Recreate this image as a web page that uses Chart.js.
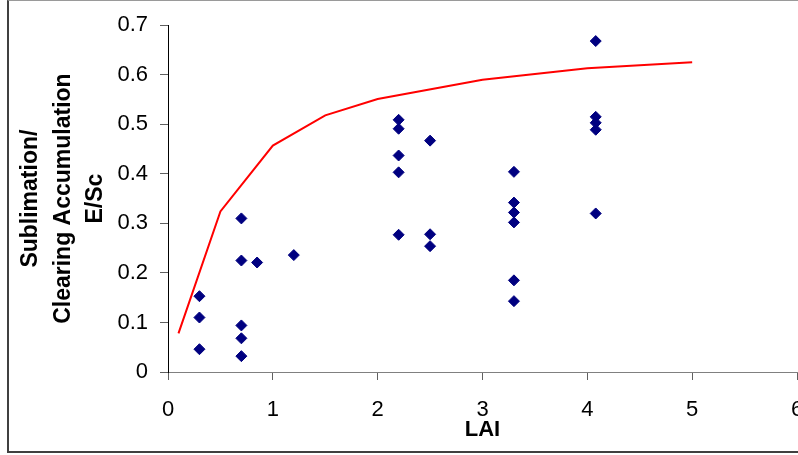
<!DOCTYPE html>
<html>
<head>
<meta charset="utf-8">
<script src="https://cdn.jsdelivr.net/npm/chart.js@4"></script>
<style>
  html, body { margin: 0; padding: 0; background: #fff; overflow: hidden; }
  .frame {
    position: absolute; left: 7px; top: 0; width: 900px; height: 450px;
    border-top: 1px solid #9a9a9a; border-left: 2px solid #404040; border-bottom: 2px solid #404040;
  }
  #chart { position: absolute; left: 0; top: 0; }
</style>
</head>
<body>
<div class="frame"></div>
<canvas id="chart" width="830" height="455"></canvas>
<script>
// measured points (LAI vs E/Sc)
var obsX = [0.3, 0.3, 0.3,
            0.7, 0.7, 0.7, 0.7, 0.7,
            0.85, 1.2,
            2.2, 2.2, 2.2, 2.2, 2.2,
            2.5, 2.5, 2.5,
            3.3, 3.3, 3.3, 3.3, 3.3, 3.3,
            4.08, 4.08, 4.08, 4.08, 4.08];
var obsY = [0.153, 0.110, 0.046,
            0.310, 0.225, 0.094, 0.068, 0.032,
            0.221, 0.236,
            0.509, 0.491, 0.437, 0.403, 0.277,
            0.467, 0.278, 0.254,
            0.404, 0.342, 0.322, 0.302, 0.185, 0.143,
            0.668, 0.515, 0.503, 0.489, 0.320];

// model curve
var modelX = [0.1, 0.5, 1, 1.5, 2, 3, 4, 5];
var modelY = [0.078, 0.324, 0.457, 0.518, 0.551, 0.590, 0.613, 0.625];

var xTicks = ['0', '1', '2', '3', '4', '5', '6'];
var yTicks = ['0', '0.1', '0.2', '0.3', '0.4', '0.5', '0.6', '0.7'];

var font = "'Liberation Sans', Arial, sans-serif";

var ctx = document.getElementById("chart");

var chartGraph = new Chart(ctx, {
    type: 'scatter',
    data: {
        datasets: [{
            label: "Observed",
            data: obsX.map(function (x, i) { return {x: x, y: obsY[i]}; }),
            pointStyle: 'rectRot',
            pointRadius: 5.5,
            pointHoverRadius: 5.5,
            backgroundColor: '#000080',
            borderColor: '#000080',
            borderWidth: 1
        },
        {
            label: "Model",
            type: 'line',
            data: modelX.map(function (x, i) { return {x: x, y: modelY[i]}; }),
            borderColor: '#ff0000',
            borderWidth: 2,
            pointRadius: 0,
            tension: 0,
            fill: false
        }]
    },
    options: {
        responsive: false,
        animation: false,
        layout: { padding: { top: 24, right: 33, bottom: 0, left: 0 } },
        plugins: { legend: { display: false }, tooltip: { enabled: false } },
        scales: {
            x: {
                type: 'linear', min: 0, max: 6,
                afterFit: function (s) { s.height = 83; },
                ticks: {
                    stepSize: 1, padding: 17, color: '#000',
                    font: { family: font, size: 22 },
                    callback: function (v) { return xTicks[Math.round(v)]; }
                },
                grid: { drawOnChartArea: false, drawTicks: true, tickLength: 8, color: '#606060' },
                border: { display: true, color: '#808080', width: 1 },
                title: {
                    display: true, text: 'LAI', color: '#000',
                    font: { family: font, size: 22, weight: 'bold', lineHeight: 1.2 },
                    padding: { top: 0, bottom: 12 }
                }
            },
            y: {
                min: 0, max: 0.7,
                afterFit: function (s) { s.width = 168; },
                ticks: {
                    stepSize: 0.1, padding: 12, color: '#000',
                    font: { family: font, size: 22 },
                    callback: function (v) { return yTicks[Math.round(v * 10)]; }
                },
                grid: { drawOnChartArea: false, drawTicks: true, tickLength: 8, color: '#606060' },
                border: { display: true, color: '#000', width: 1 },
                title: {
                    display: true,
                    text: ['Sublimation/', 'Clearing Accumulation', 'E/Sc'],
                    color: '#000',
                    font: { family: font, size: 23, weight: 'bold', lineHeight: 1.4 },
                    padding: { top: 15, bottom: 0 }
                }
            }
        }
    }
});
</script>
</body>
</html>
